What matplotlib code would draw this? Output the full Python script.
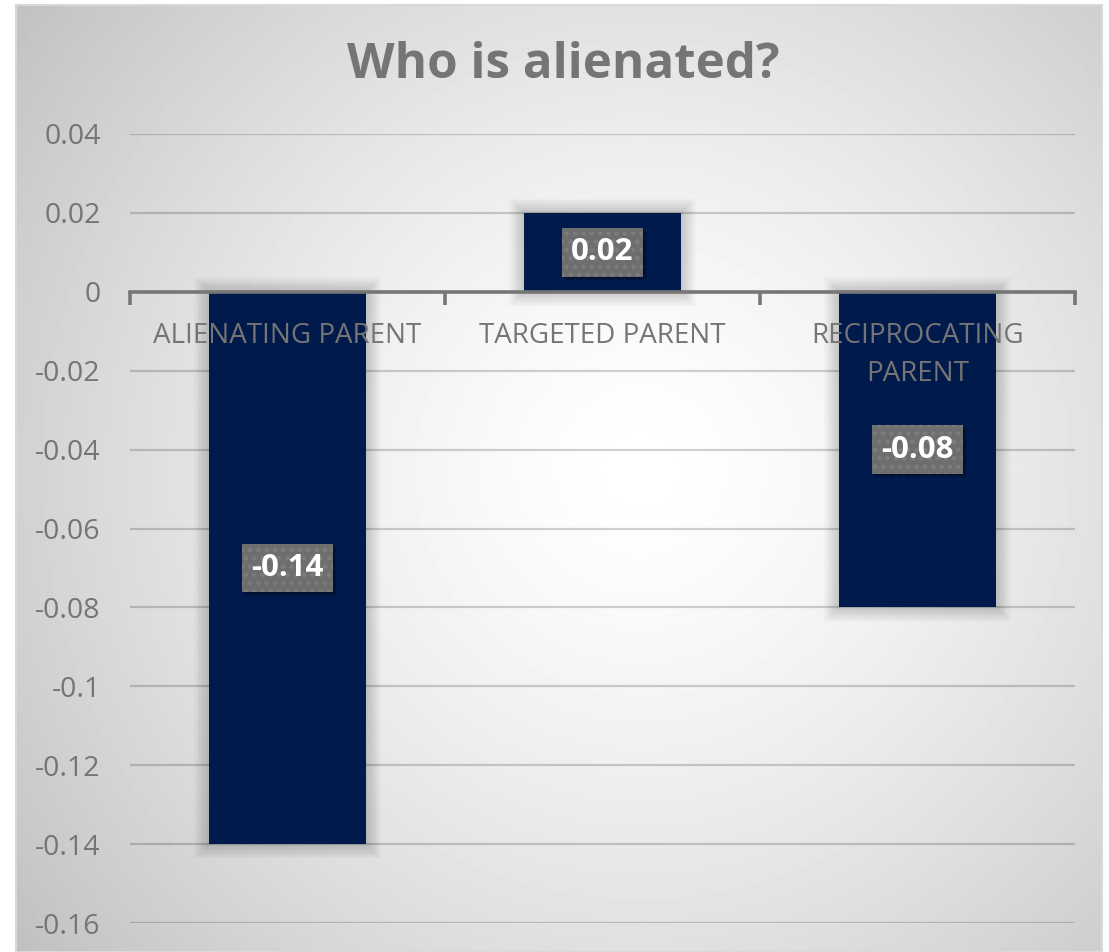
import numpy as np
import matplotlib
matplotlib.use("Agg")
import matplotlib.pyplot as plt
from matplotlib.transforms import offset_copy, IdentityTransform
from matplotlib.patches import Rectangle

# -------------------------------------------------
# Data
# -------------------------------------------------

categories = ["ALIENATING PARENT", "TARGETED PARENT", "RECIPROCATING\nPARENT"]
values = [-0.14, 0.02, -0.08]
value_labels = ["-0.14", "0.02", "-0.08"]

y_ticks = [0.04, 0.02, 0, -0.02, -0.04, -0.06, -0.08, -0.1, -0.12, -0.14, -0.16]
y_tick_labels = ["0.04", "0.02", "0", "-0.02", "-0.04", "-0.06", "-0.08",
                 "-0.1", "-0.12", "-0.14", "-0.16"]

bar_color = "#001a4b"
text_gray = "#757575"

plt.rcParams["font.family"] = ["Open Sans", "DejaVu Sans"]
plt.rcParams["hatch.linewidth"] = 2.0

W, H = 1109, 952
fig = plt.figure(figsize=(W / 100, H / 100), dpi=100)
fig.patch.set_facecolor("white")

# -------------------------------------------------
# Chart area background (radial gradient)
# -------------------------------------------------

x0, x1, y0, y1 = 16, 1102, 5, 952
bg = fig.add_axes([x0 / W, 1 - y1 / H, (x1 - x0) / W, (y1 - y0) / H], zorder=-10)
gx, gy = np.meshgrid(np.arange(x0, x1), np.arange(y0, y1))
r = np.hypot(gx - 640, gy - 470) / 780
shade = 255 - 62 * np.clip(r, 0, 1) ** 1.4
bg.imshow(shade, cmap="gray", vmin=0, vmax=255, aspect="auto", interpolation="bilinear")
bg.set_xticks([])
bg.set_yticks([])
for s in bg.spines.values():
    s.set_color("#d9d9d9")
    s.set_linewidth(1.5)

# -------------------------------------------------
# Plot area
# -------------------------------------------------

ax = fig.add_axes([130 / W, 1 - 923 / H, 945 / W, 789 / H])
ax.patch.set_alpha(0)
ax.set_xlim(-0.5, 2.5)
ax.set_ylim(-0.16, 0.04)

x = np.arange(len(categories))
bar_width = 0.5

# soft shadow round the bars
px_x = 1 / 315
px_y = 0.02 / 79
for i in range(1, 10):
    dx, dy = i * 1.6 * px_x, i * 1.6 * px_y
    for xi, v in zip(x, values):
        top = max(v, 0) + dy
        bot = min(v, 0) - dy
        ax.bar(xi, top - bot, bottom=bot, width=bar_width + 2 * dx,
               color="black", alpha=0.02, linewidth=0, zorder=1)

ax.bar(x, values, width=bar_width, color=bar_color, linewidth=0, zorder=2)

# grid and axes
ax.set_axisbelow(True)
ax.grid(axis="y", color="black", alpha=0.18, linewidth=1.6)
ax.set_yticks(y_ticks)
ax.set_yticklabels(y_tick_labels, color=text_gray, fontsize=20.5)
ax.tick_params(axis="y", length=0, pad=21)

for side in ["top", "right", "left"]:
    ax.spines[side].set_visible(False)
ax.spines["bottom"].set_position(("data", 0))
ax.spines["bottom"].set_color("#767676")
ax.spines["bottom"].set_linewidth(2.6)
ax.spines["bottom"].set_zorder(4)

ax.set_xticks([])
ax.set_xticks(np.arange(-0.5, 3, 1), minor=True)
ax.tick_params(axis="x", which="minor", length=9, width=2.6,
               color="#767676", direction="out")

# category labels (drawn above the bars)
for xi, name in zip(x, categories):
    ax.text(xi, 0, name, ha="center", va="top", fontsize=20,
            color=text_gray, linespacing=1.45, zorder=5,
            transform=offset_copy(ax.transData, fig=fig, x=0, y=-22, units="points"))

# data labels with patterned boxes
label_texts = []
for xi, v, lab in zip(x, values, value_labels):
    t = ax.text(xi, v / 2, lab, ha="center", va="center", fontsize=22.5,
                fontweight="bold", color="white", zorder=6,
                bbox=dict(boxstyle="square,pad=0.3", facecolor="#6e6e6e",
                          edgecolor="#7c7c7c", linewidth=0, hatch=".."))
    label_texts.append(t)

# title
fig.text(563 / W, 1 - 66 / H, "Who is alienated?", ha="center", va="center",
         fontsize=35.5, fontweight="bold", color=text_gray)

# drop shadow behind each label box
fig.canvas.draw()
renderer = fig.canvas.get_renderer()
for t in label_texts:
    bb = t.get_bbox_patch().get_window_extent(renderer)
    for k in range(1, 6):
        ax.add_patch(Rectangle((bb.x0 + k * 0.8, bb.y0 - k * 0.8), bb.width, bb.height,
                               transform=IdentityTransform(), facecolor="black",
                               alpha=0.08, linewidth=0, zorder=5.5, clip_on=False))

fig.savefig("out.png", dpi=100)
